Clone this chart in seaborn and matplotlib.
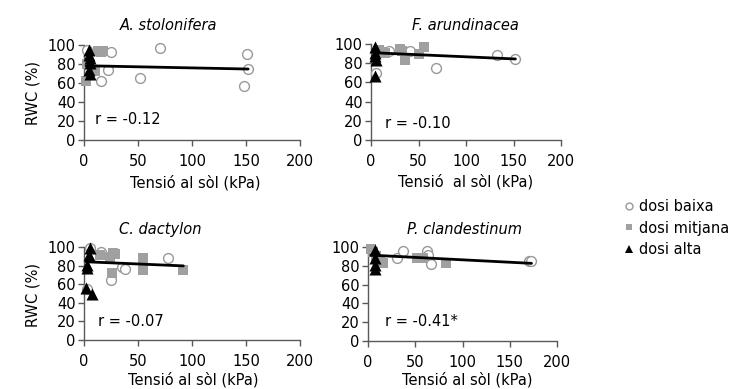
import matplotlib
matplotlib.use("Agg")
import matplotlib.pyplot as plt
from matplotlib.lines import Line2D
import seaborn as sns
import numpy as np
import pandas as pd

# ---------------- data ----------------
species = ["A. stolonifera", "F. arundinacea", "C. dactylon", "P. clandestinum"]
r_labels = ["r = -0.12", "r = -0.10", "r = -0.07", "r = -0.41*"]
x_labels = ["Tensió al sòl (kPa)", "Tensió  al sòl (kPa)", "Tensió al sòl (kPa)", "Tensió al sòl (kPa)"]
dose_labels = ["dosi baixa", "dosi mitjana", "dosi alta"]

# A. stolonifera
a_baixa_x = [3, 16, 22, 25, 52, 70, 148, 151, 152]
a_baixa_y = [95, 62, 74, 93, 65, 96.5, 57, 91, 75]
a_mitj_x = [2, 3, 10, 13, 16, 18]
a_mitj_y = [62, 80, 73, 94, 93, 94]
a_alta_x = [5, 5, 6, 6, 5, 6]
a_alta_y = [95, 90, 86, 81, 74, 70]

# F. arundinacea
f_baixa_x = [5, 19, 41, 68, 133, 152]
f_baixa_y = [70, 93, 93, 75, 89, 84.5]
f_mitj_x = [8, 12, 15, 30, 33, 36, 50, 56]
f_mitj_y = [94, 92, 91, 94.5, 93, 83, 90, 96.5]
f_alta_x = [4, 4, 4, 5, 4]
f_alta_y = [97, 91, 88, 83, 67]

# C. dactylon
c_baixa_x = [3, 6, 16, 25, 35, 38, 78]
c_baixa_y = [55, 99, 95, 64, 79, 76, 88.5]
c_mitj_x = [15, 24, 27, 26, 29, 55, 55, 55, 92]
c_mitj_y = [91, 89, 94, 72, 93, 88, 82, 75, 75]
c_alta_x = [6, 5, 3, 3, 2, 7.5]
c_alta_y = [99, 91, 81, 77, 56, 49]

# P. clandestinum
p_baixa_x = [31, 37, 62, 63, 67, 170, 173]
p_baixa_y = [88.5, 95.5, 95.5, 91, 81.5, 85.5, 85.5]
p_mitj_x = [3, 5, 8, 13, 16, 52, 58, 83]
p_mitj_y = [98, 95, 90, 86, 82.5, 88.5, 88.5, 82.5]
p_alta_x = [7, 7, 7, 7]
p_alta_y = [97, 88, 81, 77]

# linear fits (intercept, slope)
fit_intercept = [78.2, 91.0, 84.2, 91.5]
fit_slope = [-0.023, -0.0434, -0.049, -0.0514]

x_ticks = [0, 50, 100, 150, 200]
y_ticks = [0, 20, 40, 60, 80, 100]

panels = [
    (a_baixa_x, a_baixa_y, a_mitj_x, a_mitj_y, a_alta_x, a_alta_y),
    (f_baixa_x, f_baixa_y, f_mitj_x, f_mitj_y, f_alta_x, f_alta_y),
    (c_baixa_x, c_baixa_y, c_mitj_x, c_mitj_y, c_alta_x, c_alta_y),
    (p_baixa_x, p_baixa_y, p_mitj_x, p_mitj_y, p_alta_x, p_alta_y),
]

# ---------------- style ----------------
sns.set_theme(style="white")
plt.rcParams["font.family"] = ["DejaVu Sans"]
plt.rcParams["text.color"] = "black"
plt.rcParams["xtick.labelcolor"] = "black"
plt.rcParams["ytick.labelcolor"] = "black"
FS = 10.5
W, H = 733, 389

def fx(px):
    return px / W

def fy(py):
    return 1 - py / H

fig = plt.figure(figsize=(W / 100, H / 100), dpi=100)

# axes boxes in pixels: left, right, top, bottom
boxes = [(84, 300, 45, 140), (371, 561, 44, 140), (84, 300, 247, 340), (368, 557, 247, 341)]
title_pos = [(169, 25), (465, 25), (160, 230), (465, 230)]
xlab_pos = [(195, 183), (466, 182), (193, 380), (467, 380)]
r_pos = [(95, 120), (385, 124), (98, 322), (385, 322)]

grey_circle = "#999999"
grey_square = "#a0a0a0"
spine_col = "#595959"

for i, (bx, by, mx, my, ax_, ay) in enumerate(panels):
    l, r, t, b = boxes[i]
    ax = fig.add_axes([fx(l), fy(b), fx(r) - fx(l), fy(t) - fy(b)])
    df_b = pd.DataFrame({"x": bx, "y": by})
    df_m = pd.DataFrame({"x": mx, "y": my})
    df_a = pd.DataFrame({"x": ax_, "y": ay})
    sns.scatterplot(data=df_b, x="x", y="y", ax=ax, marker="o", s=50,
                    facecolor="white", edgecolor=grey_circle, linewidth=1.0,
                    clip_on=False, zorder=3)
    sns.scatterplot(data=df_m, x="x", y="y", ax=ax, marker="s", s=50,
                    color=grey_square, edgecolor=grey_square, linewidth=0,
                    clip_on=False, zorder=4)
    sns.scatterplot(data=df_a, x="x", y="y", ax=ax, marker="^", s=75,
                    color="black", edgecolor="black", linewidth=0,
                    clip_on=False, zorder=5)
    allx = np.array(bx + mx + ax_, dtype=float)
    xs = np.array([allx.min(), allx.max()])
    ax.plot(xs, fit_intercept[i] + fit_slope[i] * xs, color="black", lw=2.0,
            zorder=6, clip_on=False)

    ax.set_xlim(0, 200)
    ax.set_ylim(0, 100)
    ax.set_xticks(x_ticks)
    ax.set_yticks(y_ticks)
    ax.set_xlabel("")
    ax.set_ylabel("")
    for s in ["top", "right"]:
        ax.spines[s].set_visible(False)
    for s in ["left", "bottom"]:
        ax.spines[s].set_color(spine_col)
        ax.spines[s].set_linewidth(1.0)
    ax.tick_params(axis="both", which="both", direction="out", length=4,
                   width=1.0, color=spine_col, labelsize=FS, pad=2,
                   labelcolor="black", bottom=True, left=True)
    ax.tick_params(axis="x", pad=6)

    fig.text(fx(title_pos[i][0]), fy(title_pos[i][1]), species[i],
             ha="center", va="center", fontsize=FS, style="italic")
    fig.text(fx(xlab_pos[i][0]), fy(xlab_pos[i][1]), x_labels[i],
             ha="center", va="center", fontsize=FS)
    fig.text(fx(r_pos[i][0]), fy(r_pos[i][1]), r_labels[i],
             ha="left", va="center", fontsize=FS)

fig.text(fx(33), fy(93), "RWC (%)", rotation=90, ha="center", va="center", fontsize=FS)
fig.text(fx(33), fy(295), "RWC (%)", rotation=90, ha="center", va="center", fontsize=FS)

handles = [
    Line2D([], [], marker="o", ls="none", markersize=5, markerfacecolor="white",
           markeredgecolor=grey_circle, markeredgewidth=1.0),
    Line2D([], [], marker="s", ls="none", markersize=5, markerfacecolor=grey_square,
           markeredgecolor=grey_square, markeredgewidth=0),
    Line2D([], [], marker="^", ls="none", markersize=6, markerfacecolor="black",
           markeredgecolor="black", markeredgewidth=0),
]
fig.legend(handles, dose_labels, loc="center left",
           bbox_to_anchor=(fx(623), fy(228)), frameon=False, fontsize=FS,
           handlelength=0.8, handletextpad=0.3, labelspacing=0.45,
           borderpad=0, borderaxespad=0)

fig.savefig("out.png", dpi=100)
